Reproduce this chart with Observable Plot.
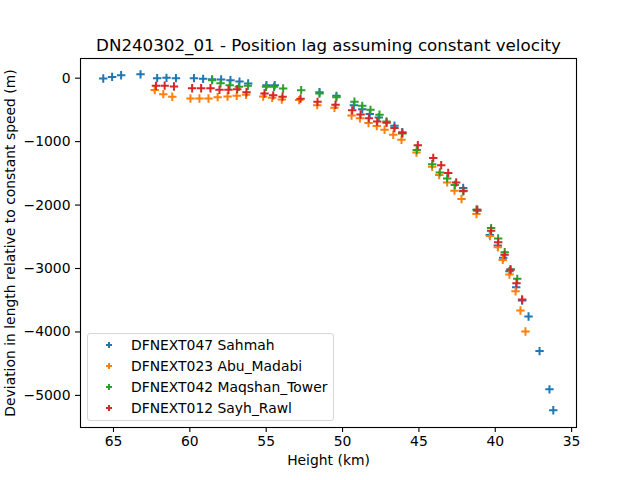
<!DOCTYPE html>
<html>
<head>
<meta charset="utf-8">
<script src="https://cdn.jsdelivr.net/npm/d3@7"></script>
<script src="https://cdn.jsdelivr.net/npm/@observablehq/plot@0.6"></script>
<style>
  body { margin: 0; background: white; }
  #wrap { position: relative; width: 640px; height: 480px; font-family: "DejaVu Sans", sans-serif; }
  #legend {
    position: absolute; left: 87px; top: 333px; width: 245px; height: 86px;
    border: 1px solid #d6d6d6; border-radius: 3px; background: rgba(255,255,255,0.8);
    font-size: 13.9px; color: #000;
  }
  .row { position: absolute; left: 0; height: 20px; line-height: 20px; white-space: nowrap; }
  .row svg { position: absolute; left: 17px; top: 6px; }
  .row span { position: absolute; left: 43px; }
</style>
</head>
<body>
<div id="wrap"><div id="legend"></div></div>
<script>
// Camera stations
const names = ["DFNEXT047 Sahmah", "DFNEXT023 Abu_Madabi", "DFNEXT042 Maqshan_Tower", "DFNEXT012 Sayh_Rawl"];
const colors = ["#1f77b4", "#ff7f0e", "#2ca02c", "#d62728"];

// Height (km) and position lag (m) for each station
const heightSahmah = [65.67, 65.09, 64.50, 63.23, 62.14, 61.53, 60.91, 59.73, 59.13, 58.54, 57.95, 57.34, 56.75, 56.18, 54.98, 54.44, 51.51, 50.40, 49.26, 48.71, 48.22, 47.63, 46.60, 46.09, 42.10, 41.18, 40.36, 39.83, 39.48, 39.07, 38.63, 38.24, 37.82, 37.10, 36.45, 36.20];
const lagSahmah = [-6, 20, 47, 60, 0, 5, 0, 0, -11, -19, -22, -31, -54, -85, -110, -112, -223, -279, -428, -488, -566, -620, -751, -853, -1731, -2088, -2470, -2639, -2832, -3043, -3295, -3504, -3756, -4302, -4905, -5235];

const heightAbuMadabi = [62.30, 61.74, 61.15, 59.96, 59.37, 58.78, 58.18, 57.53, 56.93, 56.32, 55.20, 54.61, 53.98, 52.84, 51.66, 50.53, 49.41, 48.86, 48.30, 47.76, 47.25, 46.68, 46.14, 45.16, 44.13, 43.67, 43.15, 42.67, 42.21, 41.23, 40.34, 39.83, 39.51, 39.07, 38.67, 38.35, 38.02];
const lagAbuMadabi = [-187, -252, -294, -321, -321, -321, -299, -290, -279, -263, -290, -310, -337, -346, -425, -467, -590, -633, -708, -755, -814, -892, -971, -1171, -1396, -1526, -1643, -1773, -1904, -2140, -2489, -2666, -2864, -3095, -3358, -3662, -3992];

const heightMaqshan = [58.54, 57.99, 57.39, 56.79, 56.20, 55.01, 54.49, 53.89, 52.71, 51.51, 50.40, 49.22, 48.71, 48.17, 47.58, 47.12, 46.09, 45.14, 44.13, 43.63, 43.15, 42.65, 42.10, 41.23, 40.27, 39.81, 39.38, 39.00, 38.56];
const lagMaqshan = [-31, -82, -110, -137, -121, -137, -137, -164, -189, -242, -302, -370, -436, -499, -577, -683, -872, -1131, -1356, -1485, -1580, -1684, -1784, -2072, -2363, -2526, -2744, -3010, -3163];

const heightSayhRawl = [62.22, 61.65, 61.04, 59.85, 59.26, 58.65, 58.06, 57.47, 56.90, 56.29, 55.11, 54.54, 53.93, 52.75, 51.64, 50.46, 49.37, 48.82, 48.28, 47.73, 47.12, 46.60, 46.09, 45.07, 44.06, 43.54, 43.08, 42.56, 42.08, 41.18, 40.27, 39.81, 39.39, 39.00, 38.61, 38.24];
const lagSayhRawl = [-121, -118, -132, -160, -160, -160, -184, -184, -173, -223, -242, -271, -294, -323, -373, -420, -507, -573, -633, -683, -703, -787, -865, -1057, -1259, -1372, -1495, -1643, -1773, -2072, -2403, -2587, -2785, -3021, -3232, -3489];

const xTicks = [65, 60, 55, 50, 45, 40, 35];
const yTicks = [0, -1000, -2000, -3000, -4000, -5000];

const titleText = "DN240302_01 - Position lag assuming constant velocity";
const xLabel = "Height (km)";
const yLabel = "Deviation in length relative to constant speed (m)";

const seriesHeights = [heightSahmah, heightAbuMadabi, heightMaqshan, heightSayhRawl];
const seriesLags = [lagSahmah, lagAbuMadabi, lagMaqshan, lagSayhRawl];

// "+" marker drawn as two stroked lines
const plus = {
  draw(ctx, size) {
    const r = Math.sqrt(size / Math.PI);
    ctx.moveTo(-r, 0); ctx.lineTo(r, 0);
    ctx.moveTo(0, -r); ctx.lineTo(0, r);
  }
};

const dotMarks = seriesHeights.map((hs, i) =>
  Plot.dot(hs.map((h, j) => ({height: h, lag: seriesLags[i][j]})), {
    x: "height", y: "lag", symbol: plus, r: 4.2,
    fill: "none", stroke: colors[i], strokeWidth: 2
  })
);

const chart = Plot.plot({
  width: 640,
  height: 480,
  marginLeft: 80,
  marginRight: 64,
  marginTop: 58,
  marginBottom: 53,
  style: {fontFamily: "DejaVu Sans, sans-serif", fontSize: "13.9px", color: "black", background: "white"},
  x: {domain: [67.16, 34.68]},
  y: {domain: [-5506, 310]},
  marks: [
    ...dotMarks,
    Plot.frame({stroke: "black", strokeWidth: 1.1}),
    Plot.axisX({ticks: xTicks, tickSize: 5, tickPadding: 4, tickFormat: d3.format("d"), label: null, strokeWidth: 1.1}),
    Plot.axisY({ticks: yTicks, tickSize: 5, tickPadding: 5, tickFormat: d3.format("d"), label: null, strokeWidth: 1.1}),
    Plot.text([titleText], {frameAnchor: "top", text: d => d, lineAnchor: "bottom", dy: -8, fontSize: 16.7, fill: "black"}),
    Plot.text([xLabel], {frameAnchor: "bottom", text: d => d, lineAnchor: "top", dy: 28, fontSize: 13.9, fill: "black"}),
    Plot.text([yLabel], {frameAnchor: "left", text: d => d, textAnchor: "middle", rotate: -90, dx: -70, fontSize: 13.9, fill: "black"})
  ]
});

const wrap = document.getElementById("wrap");
wrap.insertBefore(chart, wrap.firstChild);

// Legend
const legend = document.getElementById("legend");
names.forEach((name, i) => {
  const row = document.createElement("div");
  row.className = "row";
  row.style.top = (1 + i * 21) + "px";
  row.innerHTML = `<svg width="8" height="8" viewBox="-4 -4 8 8"><path d="M-3,0H3M0,-3V3" stroke="${colors[i]}" stroke-width="2"/></svg><span>${name}</span>`;
  legend.appendChild(row);
});
</script>
</body>
</html>
